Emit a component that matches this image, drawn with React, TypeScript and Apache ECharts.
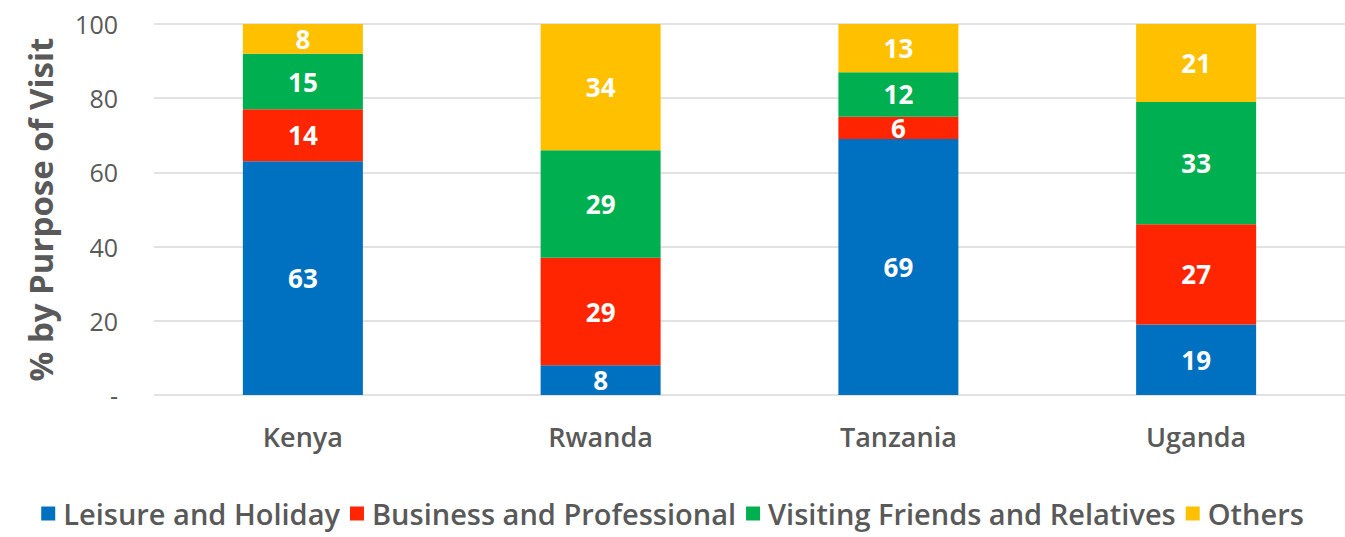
import React, { useEffect, useRef } from "react";
import * as echarts from "echarts";

const categories = ["Kenya", "Rwanda", "Tanzania", "Uganda"];
const seriesNames = [
  "Leisure and Holiday",
  "Business and Professional",
  "Visiting Friends and Relatives",
  "Others",
];
const leisure = [63, 8, 69, 19];
const business = [14, 29, 6, 27];
const visiting = [15, 29, 12, 33];
const others = [8, 34, 13, 21];
const yTicks = [0, 20, 40, 60, 80, 100];

const colors = ["#0070C0", "#FF2500", "#00B050", "#FFC000"];
const FONT = "'Open Sans', 'Noto Sans', sans-serif";

export default function App() {
  const ref = useRef<HTMLDivElement>(null);
  useEffect(() => {
    document.body.style.margin = "0";
    const chart = echarts.init(ref.current!, null, { renderer: "svg" });
    const values = [leisure, business, visiting, others];
    chart.setOption({
      animation: false,
      backgroundColor: "#ffffff",
      grid: { left: 154, width: 1196, top: 24, bottom: 142 },
      legend: {
        bottom: 4,
        left: "center",
        icon: "rect",
        itemWidth: 14,
        itemHeight: 14,
        itemGap: 10,
        textStyle: { fontFamily: FONT, fontSize: 29, fontWeight: 600, color: "#595959", padding: [0, 0, 0, 3] },
        data: seriesNames,
      },
      xAxis: {
        type: "category",
        data: categories,
        axisLine: { show: false },
        axisTick: { show: false },
        axisLabel: {
          margin: 28,
          fontFamily: FONT,
          fontSize: 27,
          fontWeight: 600,
          color: "#595959",
        },
      },
      yAxis: {
        type: "value",
        min: 0,
        max: 100,
        interval: 20,
        name: "% by Purpose of Visit",
        nameLocation: "middle",
        nameGap: 97,
        nameRotate: 90,
        nameTextStyle: { fontFamily: FONT, fontSize: 33, fontWeight: 700, color: "#595959" },
        axisLine: { show: false },
        axisTick: { show: false },
        splitLine: { lineStyle: { color: "#d9d9d9", width: 1.5 } },
        axisLabel: {
          margin: 36,
          fontFamily: FONT,
          fontSize: 25,
          color: "#595959",
          formatter: (v: number) => (yTicks.includes(v) && v === 0 ? "-" : String(v)),
        },
      },
      series: seriesNames.map((name, i) => ({
        name,
        type: "bar",
        stack: "total",
        barWidth: 120,
        data: values[i],
        itemStyle: { color: colors[i] },
        label: {
          show: true,
          position: "inside",
          color: "#ffffff",
          fontFamily: FONT,
          fontSize: 26,
          fontWeight: 700,
        },
      })),
    });
    return () => chart.dispose();
  }, []);
  return <div ref={ref} style={{ width: 1345, height: 537 }} />;
}
